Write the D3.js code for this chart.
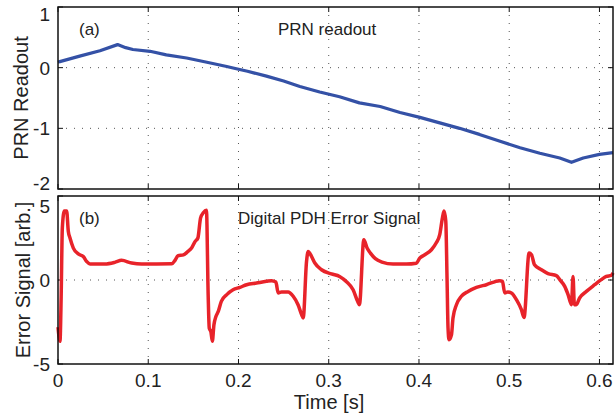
<!DOCTYPE html>
<html>
<head>
<meta charset="utf-8">
<script src="https://cdn.jsdelivr.net/npm/d3@7"></script>
<style>
  body { margin: 0; background: #fff; }
  text { font-family: "Liberation Sans", Arial, sans-serif; fill: #222; }
</style>
</head>
<body>
<div class="container"></div>
<script>
// panel (a): PRN readout
let prnTime = [0, 0.002, 0.024, 0.0465, 0.066, 0.075, 0.083, 0.102, 0.12, 0.1425, 0.165, 0.187, 0.194, 0.21, 0.231,
  0.25, 0.268, 0.29, 0.312, 0.334, 0.357, 0.379, 0.401, 0.423, 0.445, 0.467, 0.489, 0.512, 0.534, 0.556, 0.569,
  0.582, 0.6, 0.615];
let prnValue = [0.09, 0.10, 0.19, 0.28, 0.38, 0.33, 0.30, 0.27, 0.21, 0.16, 0.09, 0.02, -0.005, -0.06, -0.14,
  -0.22, -0.31, -0.40, -0.48, -0.58, -0.64, -0.74, -0.82, -0.91, -1.00, -1.10, -1.21, -1.32, -1.41, -1.49, -1.56,
  -1.49, -1.43, -1.40];

// panel (b): digital PDH error signal
let errTime = [0, 0.0022, 0.0035, 0.0048, 0.007, 0.0096, 0.0114, 0.0133, 0.017, 0.0225, 0.028, 0.0318, 0.0355,
  0.052, 0.063, 0.0705, 0.0816, 0.0927, 0.126, 0.13, 0.133, 0.139, 0.144, 0.148, 0.152, 0.155, 0.158, 0.161,
  0.1645, 0.1664, 0.1676, 0.1695, 0.171, 0.1728, 0.175, 0.1776, 0.181, 0.187, 0.194, 0.2016, 0.209, 0.22, 0.231,
  0.2366, 0.2414, 0.244, 0.2477, 0.255, 0.2606, 0.266, 0.270, 0.2717, 0.2754, 0.2772, 0.28, 0.2846, 0.292, 0.303,
  0.312, 0.320, 0.327, 0.332, 0.334, 0.3389, 0.3425, 0.3462, 0.3517, 0.359, 0.3713, 0.386, 0.397, 0.4008, 0.4064,
  0.4138, 0.419, 0.423, 0.426, 0.4278, 0.4297, 0.4311, 0.4322, 0.4333, 0.436, 0.4377, 0.4415, 0.447, 0.4544,
  0.4637, 0.4747, 0.4895, 0.4925, 0.495, 0.4985, 0.5024, 0.508, 0.5135, 0.5164, 0.522, 0.5247, 0.528, 0.5357,
  0.543, 0.5522, 0.556, 0.5615, 0.5652, 0.569, 0.5707, 0.5722, 0.5743, 0.578, 0.5855, 0.5947, 0.602, 0.6076,
  0.613, 0.615];
let errValue = [-2.8, -3.65, -1.0, 3.1, 4.1, 4.1, 2.9, 2.5, 1.9, 1.55, 1.4, 1.1, 0.95,
  0.95, 1.05, 1.17, 1.01, 0.95, 0.97, 1.2, 1.45, 1.5, 1.7, 1.9, 2.3, 2.5, 3.7, 4.0,
  4.15, -0.9, -2.86, -3.1, -3.65, -2.66, -2.17, -1.87, -1.27, -0.87, -0.58, -0.44, -0.28, -0.18, -0.08,
  -0.04, -0.12, -0.77, -0.71, -0.71, -0.97, -1.47, -2.07, -2.26, 1.1, 1.7, 1.5, 1.01, 0.61, 0.36,
  0.21, -0.12, -0.58, -1.27, -1.47, 2.4, 1.9, 1.6, 1.27, 1.07, 0.95, 0.95, 1.0, 1.3, 1.5,
  1.8, 2.2, 2.7, 3.7, 4.1, 3.5, 0.1, -2.86, -3.55, -3.26, -2.26, -1.47, -0.97, -0.68,
  -0.44, -0.28, -0.04, -0.08, -0.77, -0.71, -0.77, -1.17, -1.77, -2.23, 1.6, 1.5, 0.91, 0.61,
  0.38, 0.26, 0.02, -0.38, -0.87, -1.47, 0.21, -1.47, -1.47, -1.07, -0.68, -0.28, 0.02, 0.21,
  0.27, 0.42];

let xTicks = [0, 0.1, 0.2, 0.3, 0.4, 0.5, 0.6];
let prnTicks = [-2, -1, 0, 1];
let errTicks = [-5, 0, 5];

let svg = d3.select(".container")
  .append("svg")
  .attr("width", 616)
  .attr("height", 415);

let x = d3.scaleLinear().domain([0, 0.615]).range([58, 613]);
let yPrn = d3.scaleLinear().domain([-2, 1]).range([189, 7]);
let yErr = d3.scaleLinear().domain([-5, 5]).range([364, 196]);

function drawPanel(y, yTicks, labelShift) {
  let g = svg.append("g");
  let [y0, y1] = y.range();
  // dotted grid
  xTicks.slice(1).forEach(t => {
    g.append("line")
      .attr("x1", x(t)).attr("x2", x(t))
      .attr("y1", y1).attr("y2", y0)
      .attr("stroke", "#555")
      .attr("stroke-width", 1)
      .attr("stroke-dasharray", "1,7");
  });
  yTicks.slice(1, -1).forEach(t => {
    g.append("line")
      .attr("x1", 58).attr("x2", 613)
      .attr("y1", y(t)).attr("y2", y(t))
      .attr("stroke", "#555")
      .attr("stroke-width", 1)
      .attr("stroke-dasharray", "1,7");
  });
  // inward ticks
  xTicks.forEach(t => {
    g.append("line").attr("x1", x(t)).attr("x2", x(t)).attr("y1", y0).attr("y2", y0 - 5)
      .attr("stroke", "#111").attr("stroke-width", 1);
    g.append("line").attr("x1", x(t)).attr("x2", x(t)).attr("y1", y1).attr("y2", y1 + 5)
      .attr("stroke", "#111").attr("stroke-width", 1);
  });
  yTicks.forEach(t => {
    g.append("line").attr("x1", 58).attr("x2", 63).attr("y1", y(t)).attr("y2", y(t))
      .attr("stroke", "#111").attr("stroke-width", 1);
    g.append("line").attr("x1", 613).attr("x2", 608).attr("y1", y(t)).attr("y2", y(t))
      .attr("stroke", "#111").attr("stroke-width", 1);
    g.append("text")
      .attr("x", 50)
      .attr("y", y(t) + (labelShift[t] || 0))
      .attr("dy", "0.36em")
      .attr("text-anchor", "end")
      .attr("font-size", 19)
      .text(t);
  });
  return g;
}

let panelA = drawPanel(yPrn, prnTicks, { "1": 7, "-2": -6 });
let panelB = drawPanel(yErr, errTicks, { "5": 10 });

let prnLine = d3.line()
  .x((d, i) => x(prnTime[i]))
  .y(d => yPrn(d));
svg.append("path")
  .attr("d", prnLine(prnValue))
  .attr("fill", "none")
  .attr("stroke", "#3451a6")
  .attr("stroke-width", 3.2)
  .attr("stroke-linejoin", "round");

let errLine = d3.line()
  .x((d, i) => x(errTime[i]))
  .y(d => yErr(d))
  .curve(d3.curveMonotoneX);
svg.append("path")
  .attr("d", errLine(errValue))
  .attr("fill", "none")
  .attr("stroke", "#e8232a")
  .attr("stroke-width", 3.5)
  .attr("stroke-linejoin", "round");

// frames
[yPrn, yErr].forEach(y => {
  svg.append("rect")
    .attr("x", 58)
    .attr("y", y.range()[1])
    .attr("width", 555)
    .attr("height", y.range()[0] - y.range()[1])
    .attr("fill", "none")
    .attr("stroke", "#111")
    .attr("stroke-width", 1.5);
});

// x tick labels
xTicks.forEach(t => {
  svg.append("text")
    .attr("x", x(t))
    .attr("y", 387)
    .attr("text-anchor", "middle")
    .attr("font-size", 19)
    .text(t);
});

svg.append("text")
  .attr("x", 329)
  .attr("y", 409)
  .attr("text-anchor", "middle")
  .attr("font-size", 20)
  .text("Time [s]");

svg.append("text")
  .attr("transform", "translate(28,98) rotate(-90)")
  .attr("text-anchor", "middle")
  .attr("font-size", 20)
  .text("PRN Readout");
svg.append("text")
  .attr("transform", "translate(30,280) rotate(-90)")
  .attr("text-anchor", "middle")
  .attr("font-size", 20)
  .text("Error Signal [arb.]");

svg.append("text").attr("x", 79).attr("y", 35).attr("font-size", 17).text("(a)");
svg.append("text").attr("x", 278).attr("y", 35).attr("font-size", 17).text("PRN readout");
svg.append("text").attr("x", 79).attr("y", 224).attr("font-size", 17).text("(b)");
svg.append("text").attr("x", 238).attr("y", 224).attr("font-size", 17).text("Digital PDH Error Signal");
</script>
</body>
</html>
